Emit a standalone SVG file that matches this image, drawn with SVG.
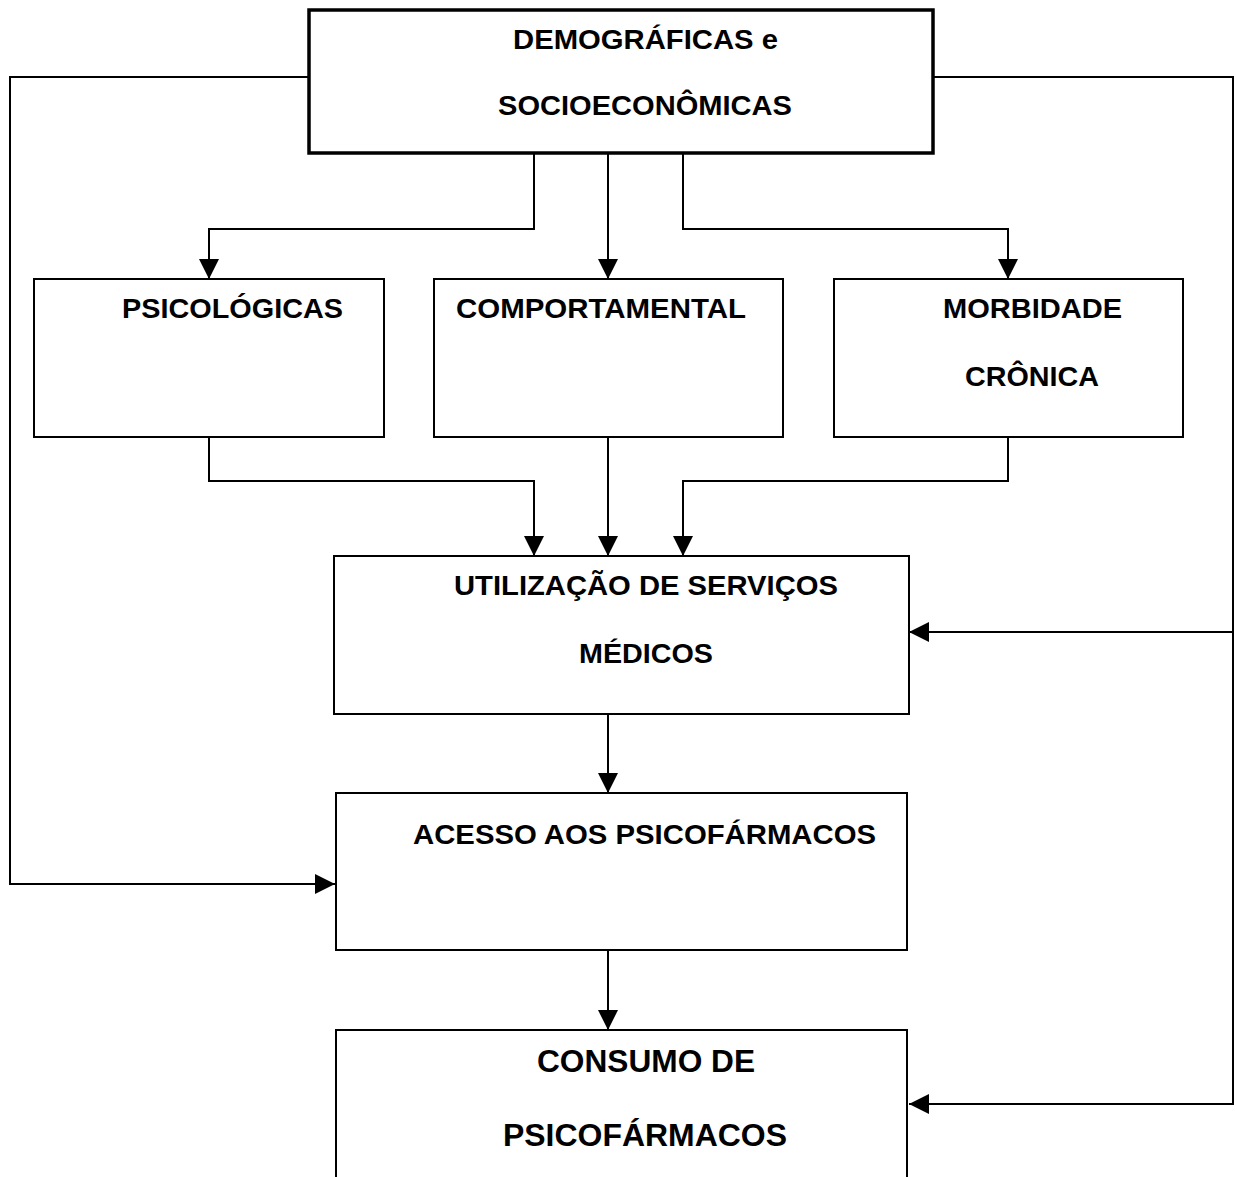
<svg xmlns="http://www.w3.org/2000/svg" width="1237" height="1177" viewBox="0 0 1237 1177">
<defs>
<style>
.box{fill:#fff;stroke:#000;stroke-width:2}
.thick{stroke-width:3.5}
.lbl{font-family:"Liberation Sans",Arial,sans-serif;font-weight:bold;font-size:28px;fill:#000}
.big{font-size:32px}
.con{fill:none;stroke:#000;stroke-width:2}
</style>
<marker id="ah" markerUnits="userSpaceOnUse" markerWidth="20" markerHeight="20" viewBox="0 0 20 20" refX="20" refY="10" orient="auto">
<path d="M0,0 L20,10 L0,20 Z" fill="#000"/>
</marker>
</defs>
<rect width="1237" height="1177" fill="#fff"/>
<g id="connectors">
<path class="con" d="M309,77 H10 V884 H335" marker-end="url(#ah)"/>
<path class="con" d="M933,77 H1233 V1104 H909" marker-end="url(#ah)"/>
<path class="con" d="M1233,632 H909" marker-end="url(#ah)"/>
<path class="con" d="M534,153 V229 H209 V279" marker-end="url(#ah)"/>
<path class="con" d="M608,153 V279" marker-end="url(#ah)"/>
<path class="con" d="M683,153 V229 H1008 V279" marker-end="url(#ah)"/>
<path class="con" d="M209,430 V481 H534 V556" marker-end="url(#ah)"/>
<path class="con" d="M608,430 V556" marker-end="url(#ah)"/>
<path class="con" d="M1008,430 V481 H683 V556" marker-end="url(#ah)"/>
<path class="con" d="M608,714 V793" marker-end="url(#ah)"/>
<path class="con" d="M608,950 V1030" marker-end="url(#ah)"/>
</g>
<g id="demograficas">
<rect class="box thick" x="309" y="10" width="624" height="143"/>
<text class="lbl" x="513" y="49" textLength="265" lengthAdjust="spacingAndGlyphs">DEMOGRÁFICAS e</text>
<text class="lbl" x="498" y="115" textLength="294" lengthAdjust="spacingAndGlyphs">SOCIOECONÔMICAS</text>
</g>
<g id="psicologicas">
<rect class="box" x="34" y="279" width="350" height="158"/>
<text class="lbl" x="122" y="318" textLength="221" lengthAdjust="spacingAndGlyphs">PSICOLÓGICAS</text>
</g>
<g id="comportamental">
<rect class="box" x="434" y="279" width="349" height="158"/>
<text class="lbl" x="456" y="318" textLength="290" lengthAdjust="spacingAndGlyphs">COMPORTAMENTAL</text>
</g>
<g id="morbidade">
<rect class="box" x="834" y="279" width="349" height="158"/>
<text class="lbl" x="943" y="318" textLength="179" lengthAdjust="spacingAndGlyphs">MORBIDADE</text>
<text class="lbl" x="965" y="386" textLength="134" lengthAdjust="spacingAndGlyphs">CRÔNICA</text>
</g>
<g id="utilizacao">
<rect class="box" x="334" y="556" width="575" height="158"/>
<text class="lbl" x="454" y="595" textLength="384" lengthAdjust="spacingAndGlyphs">UTILIZAÇÃO DE SERVIÇOS</text>
<text class="lbl" x="579" y="663" textLength="134" lengthAdjust="spacingAndGlyphs">MÉDICOS</text>
</g>
<g id="acesso">
<rect class="box" x="336" y="793" width="571" height="157"/>
<text class="lbl" x="413" y="844" textLength="463" lengthAdjust="spacingAndGlyphs">ACESSO AOS PSICOFÁRMACOS</text>
</g>
<g id="consumo">
<path class="box" d="M336,1180 V1030 H907 V1180"/>
<text class="lbl big" x="537" y="1072" textLength="218" lengthAdjust="spacingAndGlyphs">CONSUMO DE</text>
<text class="lbl big" x="503" y="1146" textLength="284" lengthAdjust="spacingAndGlyphs">PSICOFÁRMACOS</text>
</g>
</svg>
